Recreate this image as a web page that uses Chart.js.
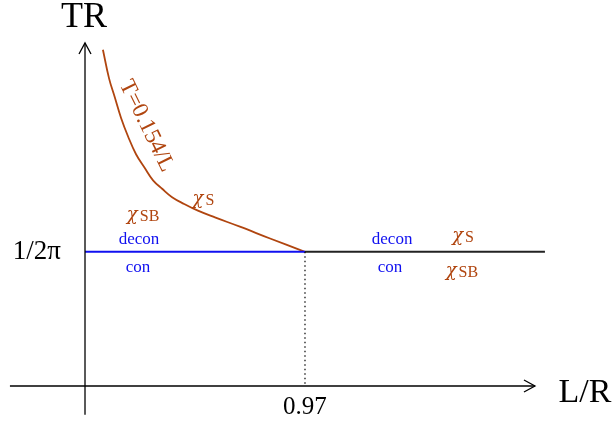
<!DOCTYPE html>
<html>
<head>
<meta charset="utf-8">
<script src="https://cdn.jsdelivr.net/npm/chart.js"></script>
<style>
  body { margin: 0; background: #fff; }
  #wrap { width: 614px; height: 425px; }
</style>
</head>
<body>
<div id="wrap"><canvas id="phase-chart"></canvas></div>
<script>
// critical point of the phase diagram
const xCrit = 0.97;
const yCrit = 1 / (2 * Math.PI);

// upper branch T = 0.154/L
const curveX = [0.079, 0.106, 0.132, 0.159, 0.190, 0.225, 0.265, 0.300, 0.340, 0.384,
                0.437, 0.498, 0.573, 0.683, 0.816, 0.97];
const curveY = [0.399, 0.365, 0.342, 0.318, 0.296, 0.275, 0.258, 0.244, 0.234, 0.224,
                0.216, 0.208, 0.200, 0.189, 0.175, yCrit];

// horizontal transition line, split at the critical point
const blueX = [0, xCrit];
const blackX = [xCrit, 2.028];

// axis extents
const xAxisRange = [-0.331, 1.984];
const yAxisRange = [-0.034, 0.407];

const brown = '#b0450f';
const blue = '#1010f0';

const labels = [
    { text: 'TR', x: -0.004, y: 0.437, size: 36, color: '#000' },
    { text: 'L/R', x: 2.204, y: -0.008, size: 34, color: '#000' },
    { text: '1/2\u03c0', x: -0.212, y: yCrit, size: 27, color: '#000' },
    { text: '0.97', x: xCrit, y: -0.026, size: 25, color: '#000' },
    { text: 'decon', x: 0.238, y: 0.174, size: 17, color: blue },
    { text: 'con', x: 0.234, y: 0.140, size: 17, color: blue },
    { text: '\u03c7', sub: 'SB', x: 0.256, y: 0.203, size: 16, color: brown },
    { text: '\u03c7', sub: 'S', x: 0.522, y: 0.222, size: 16, color: brown },
    { text: 'decon', x: 1.354, y: 0.174, size: 17, color: blue },
    { text: 'con', x: 1.345, y: 0.140, size: 17, color: blue },
    { text: '\u03c7', sub: 'S', x: 1.667, y: 0.178, size: 16, color: brown },
    { text: '\u03c7', sub: 'SB', x: 1.662, y: 0.136, size: 16, color: brown },
    { text: 'T=0.154/L', x: 0.271, y: 0.3085, size: 23, color: brown, angle: 64 }
];

const serif = '"Liberation Serif", "DejaVu Serif", serif';
const toPoints = (xs, ys) => xs.map((x, i) => ({ x: x, y: ys[i] }));

const decorations = {
    id: 'decorations',
    afterDatasetsDraw(chart) {
        const ctx = chart.ctx;
        const xs = chart.scales.x;
        const ys = chart.scales.y;

        // arrow heads
        ctx.save();
        ctx.strokeStyle = '#000';
        ctx.lineWidth = 1.3;
        const tipX = xs.getPixelForValue(xAxisRange[1]);
        const axisY = ys.getPixelForValue(0);
        ctx.beginPath();
        ctx.moveTo(tipX - 11, axisY - 6);
        ctx.lineTo(tipX, axisY);
        ctx.lineTo(tipX - 11, axisY + 6);
        ctx.stroke();
        const tipY = ys.getPixelForValue(yAxisRange[1]);
        const axisX = xs.getPixelForValue(0);
        ctx.beginPath();
        ctx.moveTo(axisX - 6, tipY + 11);
        ctx.lineTo(axisX, tipY);
        ctx.lineTo(axisX + 6, tipY + 11);
        ctx.stroke();

        // text
        labels.forEach(l => {
            ctx.save();
            ctx.translate(xs.getPixelForValue(l.x), ys.getPixelForValue(l.y));
            if (l.angle) ctx.rotate(l.angle * Math.PI / 180);
            ctx.fillStyle = l.color;
            if (l.sub) {
                // chi drawn in a rounder italic face, followed by its label
                const chiFont = 'italic 18px "DejaVu Serif", serif';
                ctx.font = chiFont;
                const w1 = ctx.measureText(l.text).width;
                ctx.font = l.size + 'px ' + serif;
                const w2 = ctx.measureText(l.sub).width;
                const gap = 2;
                const x0 = -(w1 + gap + w2) / 2;
                ctx.textAlign = 'left';
                ctx.textBaseline = 'alphabetic';
                ctx.font = chiFont;
                ctx.fillText(l.text, x0, 5);
                ctx.font = l.size + 'px ' + serif;
                ctx.fillText(l.sub, x0 + w1 + gap, 6);
            } else {
                ctx.textAlign = 'center';
                ctx.textBaseline = 'middle';
                ctx.font = l.size + 'px ' + serif;
                ctx.fillText(l.text, 0, 0);
            }
            ctx.restore();
        });
        ctx.restore();
    }
};

new Chart(document.getElementById('phase-chart'), {
    type: 'scatter',
    data: {
        datasets: [
            {
                data: toPoints(xAxisRange, [0, 0]),
                borderColor: '#000', borderWidth: 1.3, showLine: true, pointRadius: 0
            },
            {
                data: toPoints([0, 0], yAxisRange),
                borderColor: '#000', borderWidth: 1.3, showLine: true, pointRadius: 0
            },
            {
                data: toPoints([xCrit, xCrit], [yCrit, 0]),
                borderColor: '#000', borderWidth: 1.2, borderDash: [1.5, 3],
                showLine: true, pointRadius: 0
            },
            {
                data: toPoints(blackX, [yCrit, yCrit]),
                borderColor: '#222', borderWidth: 2, showLine: true, pointRadius: 0
            },
            {
                data: toPoints(blueX, [yCrit, yCrit]),
                borderColor: blue, borderWidth: 2, showLine: true, pointRadius: 0
            },
            {
                data: toPoints(curveX, curveY),
                borderColor: brown, borderWidth: 1.8, showLine: true, pointRadius: 0,
                tension: 0.4
            }
        ]
    },
    options: {
        responsive: true,
        maintainAspectRatio: false,
        animation: false,
        layout: { padding: 0 },
        plugins: {
            legend: { display: false },
            tooltip: { enabled: false }
        },
        scales: {
            x: { type: 'linear', display: false, min: -0.3748, max: 2.3325 },
            y: { type: 'linear', display: false, min: -0.0463, max: 0.458 }
        }
    },
    plugins: [decorations]
});
</script>
</body>
</html>
